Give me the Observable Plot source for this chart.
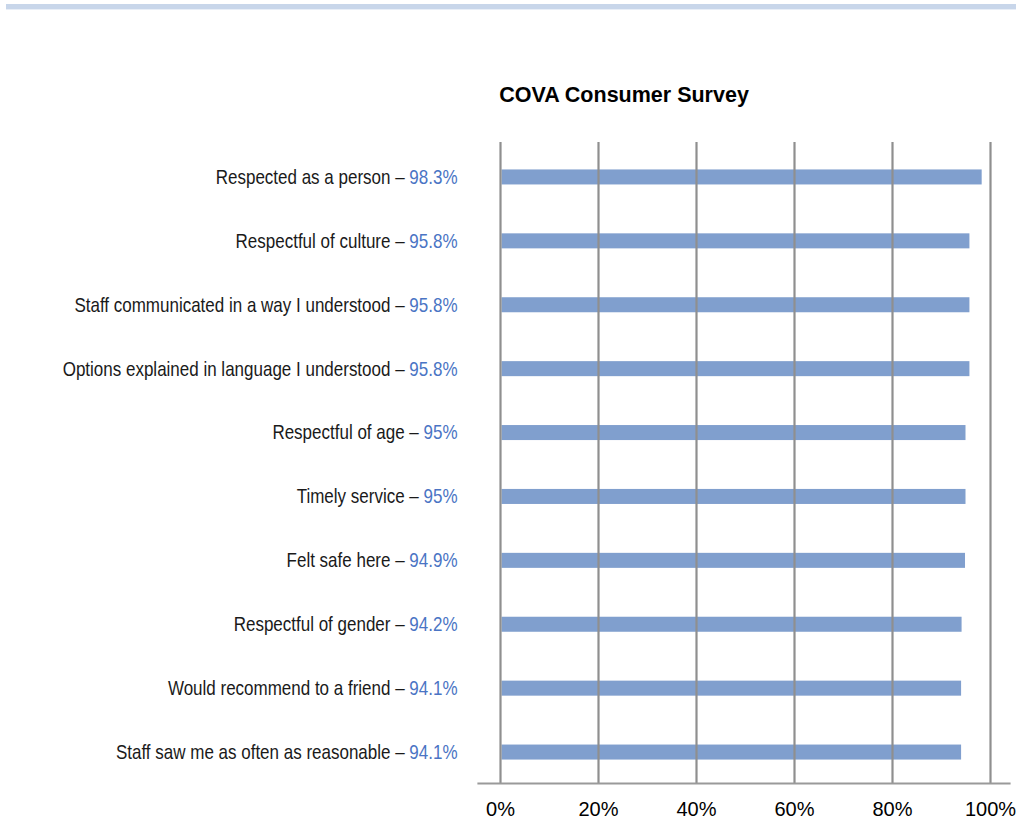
<!DOCTYPE html>
<html>
<head>
<meta charset="utf-8">
<script src="https://cdn.jsdelivr.net/npm/d3@7"></script>
<script src="https://cdn.jsdelivr.net/npm/@observablehq/plot@0.6"></script>
<style>
  html, body { margin: 0; padding: 0; background: #ffffff; }
  #wrap { position: relative; width: 1035px; height: 821px; overflow: hidden; background: #fff; }
  #band { position: absolute; left: 6px; top: 4px; width: 1010px; height: 5px; background: #c8d6ea; border-bottom: 1px solid #e8eef7; }
  #title { position: absolute; left: 424px; width: 400px; top: 83px; text-align: center;
           font-family: "Liberation Sans", Arial, sans-serif; font-weight: bold; font-size: 21.5px; color: #000; z-index: 2; }
  #chart { position: absolute; left: 0; top: 0; }
</style>
</head>
<body>
<div id="wrap">
  <div id="band"></div>
  <div id="title">COVA Consumer Survey</div>
  <div id="chart"></div>
</div>
<script>
const categories = [
  "Respected as a person",
  "Respectful of culture",
  "Staff communicated in a way I understood",
  "Options explained in language I understood",
  "Respectful of age",
  "Timely service",
  "Felt safe here",
  "Respectful of gender",
  "Would recommend to a friend",
  "Staff saw me as often as reasonable"
];
const values = [98.3, 95.8, 95.8, 95.8, 95, 95, 94.9, 94.2, 94.1, 94.1];
const valueLabels = ["98.3%", "95.8%", "95.8%", "95.8%", "95%", "95%", "94.9%", "94.2%", "94.1%", "94.1%"];
const xTicks = [0, 20, 40, 60, 80, 100];

const data = categories.map((c, i) => ({category: c, value: values[i], label: valueLabels[i]}));

const regular = "'Liberation Sans', Arial, sans-serif";

const plot = Plot.plot({
  width: 1035,
  height: 821,
  marginTop: 145,
  marginBottom: 37,
  marginLeft: 500,
  marginRight: 45,
  style: {background: "transparent", fontFamily: regular, fontSize: "20px", color: "#000"},
  x: {domain: [0, 100], ticks: xTicks, label: null},
  y: {domain: categories, paddingInner: 0.765, paddingOuter: 0.3825, round: false, label: null},
  marks: [
    Plot.barX(data, {x1: 0, x2: "value", y: "category", fill: "#809fce", insetLeft: 1.5}),
    Plot.ruleX(xTicks, {stroke: "#8f8f8f", strokeWidth: 2.2, insetTop: -3, insetBottom: 0}),
    Plot.frame({anchor: "bottom", stroke: "#9a9a9a", strokeWidth: 2.2, insetLeft: -22, insetRight: -19, dy: -1}),
    Plot.axisX({ticks: xTicks, tickSize: 0, tickPadding: 17, tickFormat: d => d + "%", fontFamily: regular, fontSize: 20, fill: "#000", label: null}),
    Plot.axisY({tickSize: 0, tickPadding: 43, fontFamily: regular, fontSize: 20, fill: "#000", label: null})
  ]
});

document.getElementById("chart").appendChild(plot);

// colour the percentage part of each category label and narrow the glyphs (Arial Narrow look)
const svg = d3.select(plot);
svg.selectAll('g[aria-label="y-axis tick label"] text').each(function() {
  const t = d3.select(this);
  const name = t.text();
  const i = categories.indexOf(name);
  if (i < 0) return;
  t.text(null);
  t.append("tspan").attr("fill", "#1a1a1a").text(name + " \u2013 ");
  t.append("tspan").attr("fill", "#4a74c4").text(valueLabels[i]);
  const tr = t.attr("transform") || "";
  t.attr("transform", tr + " scale(0.85,1)");
});
</script>
</body>
</html>
